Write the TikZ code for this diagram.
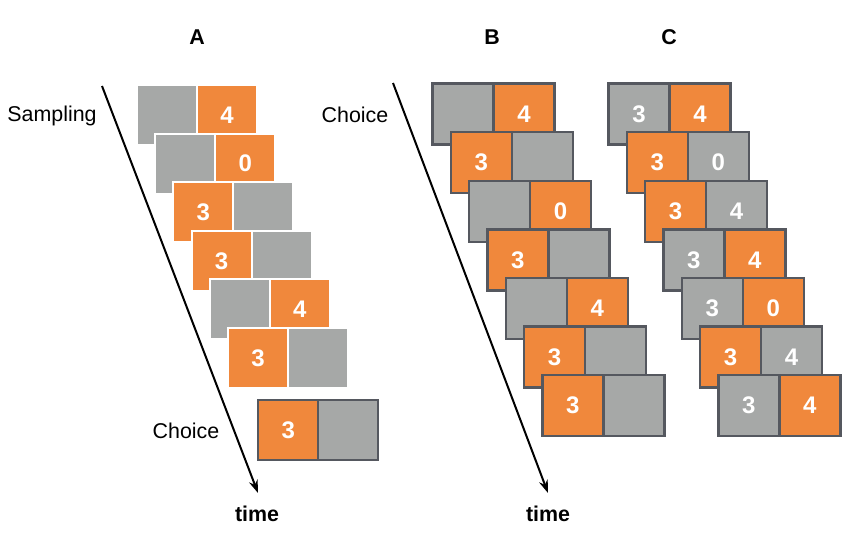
\documentclass[tikz,border=0pt]{standalone}
\usepackage{fontspec}
\setmainfont{Liberation Sans}
\usepackage{xcolor}
\usepackage{tikz}
\usetikzlibrary{arrows.meta,positioning}

\definecolor{cardorange}{HTML}{F0883C}
\definecolor{cardgray}{HTML}{A6A8A7}
\definecolor{edgegray}{HTML}{55585F}

\begin{document}
\begin{tikzpicture}[
    x=0.5pt, y=-0.5pt,
    square/.style={rectangle, minimum size=30.5pt, inner sep=0pt, text=white, font=\bfseries\fontsize{12}{14}\selectfont},
    orangesq/.style={square, fill=cardorange},
    graysq/.style={square, fill=cardgray},
    sampled/.style={draw=white, line width=1pt, minimum size=30pt},
    chosen/.style={draw=edgegray, line width=1.2pt},
    label/.style={font=\fontsize{10.7}{13}\selectfont},
    heading/.style={font=\bfseries\fontsize{10.7}{13}\selectfont},
    arrow/.style={-{Stealth[length=6.5pt, width=4.5pt]}, line width=1pt}
]
\useasboundingbox (0,0) rectangle (850,547);

% Headings
\node[heading] (head_a) at (197,37) {A};
\node[heading] (head_b) at (492,37) {B};
\node[heading] (head_c) at (669,37) {C};

% Time axes
\coordinate (a_start) at (102,86);
\coordinate (a_end) at (258,493);
\coordinate (b_start) at (393,83);
\coordinate (b_end) at (548,493);
\draw[arrow] (a_start) -- (a_end);
\draw[arrow] (b_start) -- (b_end);
\node[heading] (time_a) at (257,514) {time};
\node[heading] (time_b) at (548,514) {time};

% Labels
\node[label] (sampling) at (52,116) {Sampling};
\node[label] (choice_a) at (186,431) {Choice};
\node[label] (choice_b) at (355,115) {Choice};

% Panel A: sampling
\node[graysq, sampled] (a1_left) at (167,115) {};
\node[orangesq, sampled] (a1_right) at (227,115) {4};
\node[graysq, sampled] (a2_left) at (185.2,163.6) {};
\node[orangesq, sampled] (a2_right) at (245.2,163.6) {0};
\node[orangesq, sampled] (a3_left) at (203.4,212.2) {3};
\node[graysq, sampled] (a3_right) at (263.4,212.2) {};
\node[orangesq, sampled] (a4_left) at (221.6,260.8) {3};
\node[graysq, sampled] (a4_right) at (281.6,260.8) {};
\node[graysq, sampled] (a5_left) at (239.8,309.4) {};
\node[orangesq, sampled] (a5_right) at (299.8,309.4) {4};
\node[orangesq, sampled] (a6_left) at (258,358) {3};
\node[graysq, sampled] (a6_right) at (318,358) {};

% Panel A: choice
\node[orangesq, chosen, minimum size=30pt] (choice_left) at (288.2,430) {3};
\node[graysq, chosen, minimum size=30pt] (choice_right) at (348.2,430) {};

% Panel B
\node[graysq, chosen] (b1_left) at (463,114) {};
\node[orangesq, chosen] (b1_right) at (524,114) {4};
\node[orangesq, chosen] (b2_left) at (481.3,162.6) {3};
\node[graysq, chosen] (b2_right) at (542.3,162.6) {};
\node[graysq, chosen] (b3_left) at (499.6,211.2) {};
\node[orangesq, chosen] (b3_right) at (560.6,211.2) {0};
\node[orangesq, chosen] (b4_left) at (517.9,259.8) {3};
\node[graysq, chosen] (b4_right) at (578.9,259.8) {};
\node[graysq, chosen] (b5_left) at (536.2,308.4) {};
\node[orangesq, chosen] (b5_right) at (597.2,308.4) {4};
\node[orangesq, chosen] (b6_left) at (554.5,357) {3};
\node[graysq, chosen] (b6_right) at (615.5,357) {};
\node[orangesq, chosen] (b7_left) at (572.8,405.6) {3};
\node[graysq, chosen] (b7_right) at (633.8,405.6) {};

% Panel C
\node[graysq, chosen] (c1_left) at (639,114) {3};
\node[orangesq, chosen] (c1_right) at (700,114) {4};
\node[orangesq, chosen] (c2_left) at (657.3,162.6) {3};
\node[graysq, chosen] (c2_right) at (718.3,162.6) {0};
\node[orangesq, chosen] (c3_left) at (675.6,211.2) {3};
\node[graysq, chosen] (c3_right) at (736.6,211.2) {4};
\node[graysq, chosen] (c4_left) at (693.9,259.8) {3};
\node[orangesq, chosen] (c4_right) at (754.9,259.8) {4};
\node[graysq, chosen] (c5_left) at (712.2,308.4) {3};
\node[orangesq, chosen] (c5_right) at (773.2,308.4) {0};
\node[orangesq, chosen] (c6_left) at (730.5,357) {3};
\node[graysq, chosen] (c6_right) at (791.5,357) {4};
\node[graysq, chosen] (c7_left) at (748.8,405.6) {3};
\node[orangesq, chosen] (c7_right) at (809.8,405.6) {4};

\end{tikzpicture}
\end{document}
